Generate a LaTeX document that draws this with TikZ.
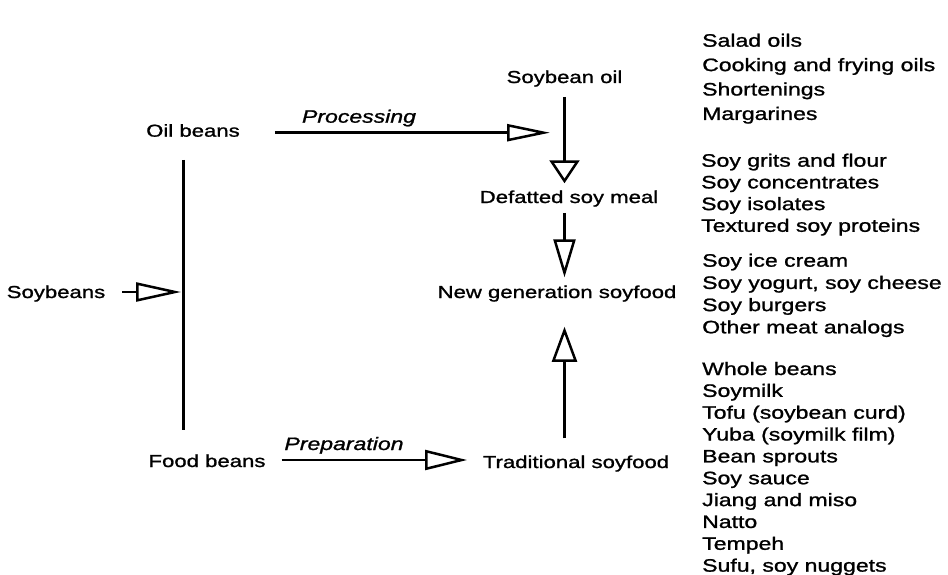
\documentclass[tikz,border=0pt]{standalone}
\usepackage{fontspec}
\setmainfont[FakeStretch=1.28, FakeBold=1.2]{Liberation Sans}
\usetikzlibrary{arrows.meta}

\tikzset{
	stage/.style = {inner sep=0pt, anchor=base, font=\fontsize{17.3}{20}\selectfont},
	item/.style = {inner sep=0pt, anchor=base west, font=\fontsize{18}{21}\selectfont},
	how/.style = {inner sep=0pt, anchor=base, font=\fontsize{18}{21}\selectfont\itshape},
	flow/.style 2 args = {line width=2.5pt, -{Triangle[open, length=#1, width=#2]}}
}

\begin{document}
\begin{tikzpicture}[x=1pt, y=-1pt]
	\useasboundingbox (0,0) rectangle (948,575);
	% stages
	\node[stage] (soy) at (56,298) {Soybeans};
	\node[stage] (oilb) at (193,136.7) {Oil beans};
	\node[stage] (foodb) at (207,467) {Food beans};
	\node[stage] (sbo) at (564.5,83) {Soybean oil};
	\node[stage] (meal) at (569,203) {Defatted soy meal};
	\node[stage] (newgen) at (557,298) {New generation soyfood};
	\node[stage] (trad) at (576,468) {Traditional soyfood};
	\node[how] (proc) at (359,122.7) {Processing};
	\node[how] (prep) at (344,450) {Preparation};
	% free ends
	\coordinate (top) at (183,160);
	\coordinate (bot) at (183,430);
	\coordinate (split) at (181,292);
	\coordinate (procend) at (550,132.7);
	\coordinate (prepend) at (467,460);
	% connectors
	\draw[line width=3pt] (top) -- (bot);
	\draw[flow={45pt}{19pt}, shorten <=17pt] (soy.east |- split) -- (split);
	\draw[flow={43pt}{17pt}, shorten <=35pt] (oilb.east |- procend) -- (procend);
	\draw[flow={42pt}{20pt}, shorten <=16pt] (foodb.east |- prepend) -- (prepend);
	\draw[flow={23pt}{30pt}, shorten <=10pt, shorten >=7pt] (sbo.south) -- (sbo.south |- meal.north);
	\draw[flow={38pt}{22pt}, shorten <=6pt, shorten >=8pt] (meal.south -| sbo) -- (newgen.north -| sbo);
	\draw[flow={35pt}{25pt}, shorten <=17pt, shorten >=25pt] (trad.north -| sbo) -- (newgen.south -| sbo);
	% products
	\foreach \t [count=\i from 0] in {Salad oils, Cooking and frying oils, Shortenings, Margarines}
	\node[item] (oil\i) at (702,{46.7+24.4*\i}) {\t};
	\foreach \t [count=\i from 0] in {Soy grits and flour, Soy concentrates, Soy isolates, Textured soy proteins}
	\node[item] (meal\i) at (701,{166.7+21.7*\i}) {\t};
	\foreach \t [count=\i from 0] in {Soy ice cream, {Soy yogurt, soy cheese}, Soy burgers, Other meat analogs}
	\node[item] (new\i) at (702,{266.7+22.2*\i}) {\t};
	\foreach \t [count=\i from 0] in {Whole beans, Soymilk, Tofu (soybean curd), Yuba (soymilk film), Bean sprouts, Soy sauce, Jiang and miso, Natto, Tempeh, {Sufu, soy nuggets}}
	\node[item] (trad\i) at (702,{375+21.85*\i}) {\t};
\end{tikzpicture}
\end{document}
